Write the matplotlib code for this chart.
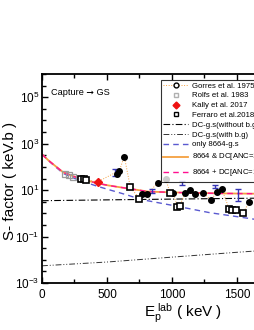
import numpy as np
import matplotlib
matplotlib.use('Agg')
import matplotlib.pyplot as plt
from matplotlib.lines import Line2D
from matplotlib.ticker import FixedLocator, MultipleLocator, LogFormatterMathtext, NullFormatter

plt.rcParams['font.family'] = ['Liberation Sans', 'DejaVu Sans']
plt.rcParams['mathtext.fontset'] = 'custom'
plt.rcParams['mathtext.rm'] = 'Liberation Sans'
plt.rcParams['mathtext.it'] = 'Liberation Sans:italic'

# theory curves
E_sum = [0, 50, 100, 164, 250, 320, 420, 508, 650, 820, 1000, 1200, 1400, 1650, 2000]
S_sum = [350, 190, 112, 58, 38, 29, 20, 16, 12, 8.6, 8.0, 7.5, 7.2, 7.0, 6.8]
E_res = [0, 50, 100, 164, 250, 320, 420, 508, 650, 766, 1023, 1289, 1500, 1650, 2000]
S_res = [350, 185, 105, 52, 32, 23, 15, 10.7, 6.3, 3.9, 2.1, 1.07, 0.72, 0.54, 0.32]
E_dc = [0, 500, 1000, 1500, 2000]
S_dc_nobg = [3.5, 3.8, 4.1, 4.4, 4.7]
S_dc_bg = [0.0055, 0.008, 0.013, 0.021, 0.033]

# data sets
E_gorres = [575, 595, 633, 770, 810, 890, 953, 1010, 1100, 1140, 1180, 1240, 1297, 1350, 1383, 1594]
S_gorres = [50, 68, 280, 7.0, 6.5, 21, 29, 7.5, 7.8, 10, 7.0, 7.6, 3.9, 8.0, 11.5, 3.1]
E_rolfs = [180, 205, 240]
S_rolfs = [48, 44, 36]
E_kally = [430]
S_kally = [23]
E_ferraro = [300, 320, 340, 680, 750, 984, 1040, 1060, 1440, 1465, 1490, 1547]
S_ferraro = [30, 29, 27, 13, 4.3, 7.8, 1.9, 2.1, 1.5, 1.45, 1.35, 1.05]
S_ferraro_err = [3, 3, 3, 1.5, 0.8, 1, 0.3, 0.3, 0.25, 0.25, 0.2, 0.2]
E_blue = [560, 844, 1078, 1328, 1508]
S_blue = [55, 9.3, 20, 14.5, 6.0]
S_blue_lo = [39, 7.6, 16, 12.6, 3.4]
S_blue_hi = [85, 11.5, 24.5, 17, 11.5]

fig = plt.figure(figsize=(2.55, 3.3), dpi=100)
# the original axes run on past the right edge of the crop
ax = fig.add_axes([42/255, 47/330, 260/255, 209/330])

orange = '#f5a040'
magenta = '#ff1090'
blue = '#5a5ad0'

ax.plot(E_dc, S_dc_nobg, color='black', lw=0.8, ls=(0, (6, 2, 1, 2)))
ax.plot(E_dc, S_dc_bg, color='#333333', lw=0.7, ls=(0, (6, 2, 1, 2, 1, 2)))
ax.plot(E_res, S_res, color=blue, lw=1.0, ls=(0, (4, 3)))
ax.plot(E_sum, S_sum, color=orange, lw=1.3)
ax.plot(E_sum, S_sum, color=magenta, lw=1.0, ls=(0, (4, 3)))

# dotted connection through the measured points
E_all = np.array(E_gorres + E_ferraro + E_kally + E_blue[:1])
S_all = np.array(S_gorres + S_ferraro + S_kally + S_blue[:1])
order = np.argsort(E_all)
ax.plot(E_all[order], S_all[order], color=orange, lw=0.7, ls=':')

ax.errorbar(E_blue, S_blue,
            yerr=[np.array(S_blue) - np.array(S_blue_lo), np.array(S_blue_hi) - np.array(S_blue)],
            fmt='none', ecolor='#3535b5', elinewidth=1.0, capsize=2.5, capthick=1.0)
ax.plot(E_rolfs, S_rolfs, 's', mfc='none', mec='#9a9a9a', ms=4, mew=0.9)
ax.errorbar(E_ferraro, S_ferraro, yerr=S_ferraro_err, fmt='s', mfc='white', mec='black',
            ms=4, mew=1.2, ecolor='black', elinewidth=0.8, capsize=1.5)
ax.plot(E_gorres, S_gorres, 'o', color='black', ms=4)
ax.plot(E_kally, S_kally, 'D', color='#ee1111', ms=4.5)

ax.set_yscale('log')
ax.set_xlim(0, 2000)
ax.set_ylim(1e-3, 1e6)
ax.xaxis.set_major_locator(FixedLocator([0, 500, 1000, 1500]))
ax.xaxis.set_minor_locator(MultipleLocator(250))
ax.yaxis.set_major_locator(FixedLocator([1e-3, 1e-1, 1e1, 1e3, 1e5]))
ax.yaxis.set_major_formatter(LogFormatterMathtext())
ax.yaxis.set_minor_locator(FixedLocator(10.0 ** np.arange(-3, 6.01, 0.5)))
ax.yaxis.set_minor_formatter(NullFormatter())
ax.tick_params(which='both', direction='in', top=True, right=True, width=1.0, labelsize=8.5)
ax.tick_params(axis='y', pad=2)
ax.tick_params(axis='x', pad=4)
ax.tick_params(which='major', length=4)
ax.tick_params(which='minor', length=3)
for s in ax.spines.values():
    s.set_linewidth(1.3)

fig.text(10/255, 1 - 181/330, 'S- factor ( keV.b )', fontsize=11, rotation=90,
         ha='center', va='center')
fig.text(183/255, 1 - 317/330, r'E$_{\rm p}^{\ \rm lab}$ ( keV )', fontsize=11,
         ha='center', va='baseline')

fig.text(51/255, 1 - 93/330, 'Capture \u279e GS', fontsize=6.6, va='center')

handles = [
    Line2D([], [], color=orange, ls=':', lw=0.7, marker='o', mfc='white', mec='black', ms=3.5),
    Line2D([], [], ls='none', marker='s', mfc='none', mec='#b0b0b0', ms=3.5),
    Line2D([], [], ls='none', marker='D', color='#ee1111', ms=3.5),
    Line2D([], [], ls='none', marker='s', mfc='none', mec='black', ms=3.5),
    Line2D([], [], color='black', lw=0.8, ls=(0, (6, 2, 1, 2))),
    Line2D([], [], color='#333333', lw=0.7, ls=(0, (6, 2, 1, 2, 1, 2))),
    Line2D([], [], color=blue, lw=1.0, ls=(0, (4, 3))),
    Line2D([], [], color=orange, lw=1.3),
    Line2D([], [], color=magenta, lw=1.0, ls=(0, (4, 3))),
]
labels = ['Gorres et al. 1975', 'Rolfs et al. 1983', 'Kally et al. 2017', 'Ferraro et al.2018',
          'DC-g.s(without b.g)', 'DC-g.s(with b.g)', 'only 8664-g.s',
          '8664 & DC[ANC=16.1 fm$^{-1/2}$]', '8664 + DC[ANC=16.1 fm$^{-1/2}$]']
leg = fig.legend(handles, labels, loc='upper left', bbox_to_anchor=(157/255, 1 - 76/330),
                 fontsize=5.6, frameon=True, fancybox=False, edgecolor='black',
                 handlelength=3.2, handletextpad=0.5, borderpad=0.3, labelspacing=0.3)
leg.get_frame().set_linewidth(0.8)

fig.savefig('out.png', dpi=100)
